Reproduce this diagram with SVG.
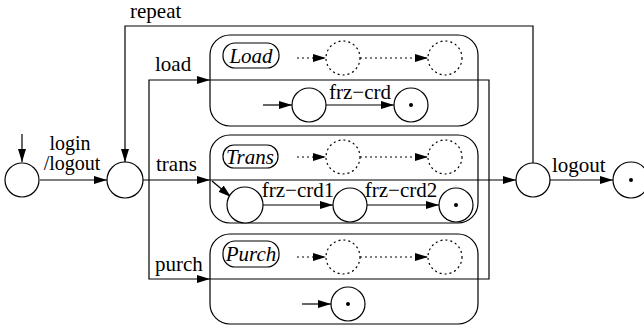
<svg xmlns="http://www.w3.org/2000/svg" width="644" height="326" viewBox="0 0 644 326">
<defs>
<marker id="ah" markerUnits="userSpaceOnUse" markerWidth="14" markerHeight="10" refX="13" refY="4" orient="auto">
<path d="M0,0 L13,4 L0,8 z" fill="#000"/>
</marker>
<style>
.ln{fill:none;stroke:#000;stroke-width:1.2}
.st{fill:#fff;stroke:#000;stroke-width:1.2}
.ds{fill:none;stroke:#000;stroke-width:1.2;stroke-dasharray:2,3}
.box{fill:none;stroke:#000;stroke-width:1.2}
</style>
</defs>
<rect width="644" height="326" fill="#fff"/>
<g font-family="'Liberation Serif', 'DejaVu Serif', 'Times New Roman', serif" font-size="21" fill="#000">
<g id="connectors">
<line class="ln" x1="22" y1="134" x2="22" y2="162" marker-end="url(#ah)"/>
<line class="ln" x1="40" y1="180" x2="107" y2="180" marker-end="url(#ah)"/>
<path class="ln" d="M533,163 V26 H125 V162" marker-end="url(#ah)"/>
<line class="ln" x1="143" y1="180" x2="210" y2="180" marker-end="url(#ah)"/>
<line class="ln" x1="210" y1="180" x2="516" y2="180" marker-end="url(#ah)"/>
<path class="ln" d="M149,180 V80 H210" marker-end="url(#ah)"/>
<path class="ln" d="M149,180 V279 H210" marker-end="url(#ah)"/>
<path class="ln" d="M210,80 H489 V279 H210"/>
<line class="ln" x1="550" y1="180" x2="613" y2="180" marker-end="url(#ah)"/>
<text x="70" y="150" text-anchor="middle" font-size="20">login</text>
<text x="72" y="170" text-anchor="middle" font-size="20">/logout</text>
<text x="130" y="18">repeat</text>
<text x="155" y="71">load</text>
<text x="156" y="171">trans</text>
<text x="155" y="271">purch</text>
<text x="552" y="172">logout</text>
</g>
<g id="init"><circle class="st" cx="22" cy="180" r="17"/></g>
<g id="hub"><circle class="st" cx="125" cy="180" r="18"/></g>
<g id="join"><circle class="st" cx="533" cy="180" r="17"/></g>
<g id="final"><circle class="st" cx="631" cy="180" r="18"/><circle cx="631" cy="180" r="2" fill="#000"/></g>
<g id="load-box">
<rect class="box" x="210" y="35" width="268" height="91" rx="20"/>
<rect class="box" x="223" y="43" width="56" height="25" rx="12"/>
<text x="251" y="63" text-anchor="middle" font-style="italic">Load</text>
<line class="ds" x1="297" y1="58" x2="326" y2="58" marker-end="url(#ah)"/>
<circle class="ds" cx="343" cy="58" r="17"/>
<line class="ds" x1="360" y1="58" x2="428" y2="58" marker-end="url(#ah)"/>
<circle class="ds" cx="445" cy="58" r="17"/>
<line class="ln" x1="263" y1="105" x2="292" y2="105" marker-end="url(#ah)"/>
<circle class="st" cx="309" cy="105" r="17"/>
<line class="ln" x1="326" y1="105" x2="394" y2="105" marker-end="url(#ah)"/>
<circle class="st" cx="411" cy="105" r="17"/>
<circle cx="411" cy="105" r="2" fill="#000"/>
<text x="360" y="99" text-anchor="middle">frz−crd</text>
</g>
<g id="trans-box">
<rect class="box" x="210" y="135" width="268" height="88" rx="20"/>
<rect class="box" x="223" y="145" width="55" height="23" rx="11"/>
<text x="250" y="164" text-anchor="middle" font-style="italic">Trans</text>
<line class="ds" x1="297" y1="157" x2="326" y2="157" marker-end="url(#ah)"/>
<circle class="ds" cx="343" cy="157" r="17"/>
<line class="ds" x1="360" y1="157" x2="428" y2="157" marker-end="url(#ah)"/>
<circle class="ds" cx="445" cy="157" r="17"/>
<line class="ln" x1="212" y1="181" x2="231" y2="197" marker-end="url(#ah)"/>
<circle class="st" cx="245" cy="205" r="18"/>
<line class="ln" x1="263" y1="205" x2="333" y2="205" marker-end="url(#ah)"/>
<circle class="st" cx="350" cy="205" r="17"/>
<line class="ln" x1="367" y1="205" x2="439" y2="205" marker-end="url(#ah)"/>
<circle class="st" cx="456" cy="205" r="17"/>
<circle cx="456" cy="205" r="2" fill="#000"/>
<text x="298" y="197" text-anchor="middle">frz−crd1</text>
<text x="401" y="197" text-anchor="middle">frz−crd2</text>
</g>
<g id="purch-box">
<rect class="box" x="210" y="234" width="268" height="90" rx="20"/>
<rect class="box" x="223" y="241" width="56" height="26" rx="12"/>
<text x="251" y="261" text-anchor="middle" font-style="italic">Purch</text>
<line class="ds" x1="297" y1="257" x2="326" y2="257" marker-end="url(#ah)"/>
<circle class="ds" cx="343" cy="257" r="17"/>
<line class="ds" x1="360" y1="257" x2="428" y2="257" marker-end="url(#ah)"/>
<circle class="ds" cx="445" cy="257" r="17"/>
<line class="ln" x1="302" y1="304" x2="331" y2="304" marker-end="url(#ah)"/>
<circle class="st" cx="348" cy="304" r="17"/>
<circle cx="348" cy="304" r="2" fill="#000"/>
</g>
</g>
</svg>
